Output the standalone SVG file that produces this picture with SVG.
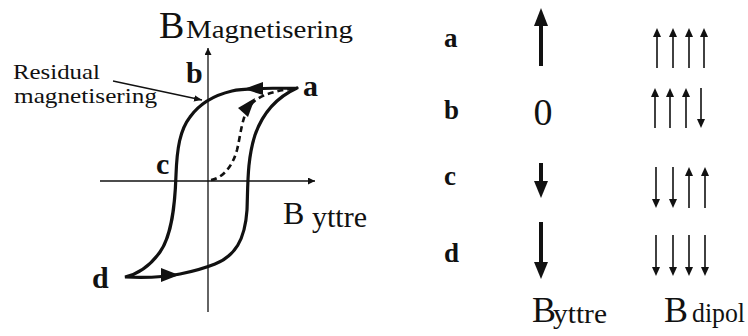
<svg xmlns="http://www.w3.org/2000/svg" width="748" height="336" viewBox="0 0 748 336">
<defs>
<style>
.t{font-family:"Liberation Serif","Times New Roman",serif;fill:#111}
.bl{font-family:"Liberation Serif","Times New Roman",serif;font-weight:bold;fill:#111}
.ax{stroke:#111;stroke-width:1.3;fill:none}
.loop{stroke:#111;stroke-width:3.2;fill:none;stroke-linecap:round}
.dash{stroke:#111;stroke-width:2.6;fill:none;stroke-dasharray:6 4}
.big{stroke:#111;stroke-width:4;fill:none}
.sm{stroke:#111;stroke-width:1.6;fill:none}
.hd{fill:#111;stroke:none}
</style>
<marker id="axh" viewBox="0 0 10 10" refX="10" refY="5" markerWidth="7" markerHeight="7" markerUnits="userSpaceOnUse" orient="auto"><path d="M0,0 L10,5 L0,10 z" fill="#111"/></marker>
<marker id="sh" viewBox="0 0 10 10" refX="10" refY="5" markerWidth="8" markerHeight="8" markerUnits="userSpaceOnUse" orient="auto"><path d="M0,1 L10,5 L0,9 z" fill="#111"/></marker>
</defs>

<g id="axes">
<line class="ax" x1="208" y1="312" x2="208" y2="48" marker-end="url(#axh)"/>
<line class="ax" x1="100" y1="181" x2="315" y2="181" marker-end="url(#axh)"/>
<text class="t" x="159" y="38" font-size="38">B</text>
<text class="t" x="186" y="38" font-size="26" textLength="167" lengthAdjust="spacingAndGlyphs">Magnetisering</text>
<text class="t" x="283" y="224" font-size="32">B</text>
<text class="t" x="312" y="227" font-size="29" textLength="55" lengthAdjust="spacingAndGlyphs">yttre</text>
</g>

<g id="loop">
<path class="loop" d="M297,88 C270,88 245,88 232,91 C215,95 200,103 190,117 C180,130 177,148 176,175 C175,205 172,235 160,252 C150,266 138,274 125,277 C145,278 165,277 180,274 C195,271 205,268 215,264 C235,256 245,240 247,210 C248,185 247,160 255,135 C262,115 275,98 297,88"/>
<path class="hd" d="M244,89 L263,82 L263,95 z"/>
<path class="hd" d="M179,275 L161,282 L161,268 z"/>
</g>

<g id="virgin">
<path class="dash" d="M211,180 C222,178 232,168 237,150 C240,138 241,125 246,112 C252,100 262,93 290,89"/>
<path class="hd" d="M255,98 L248,117 L238,108 z"/>
</g>

<g id="residual">
<text class="t" x="13" y="79" font-size="21" textLength="87" lengthAdjust="spacingAndGlyphs">Residual</text>
<text class="t" x="14" y="102.5" font-size="21" textLength="143" lengthAdjust="spacingAndGlyphs">magnetisering</text>
<line class="ax" x1="113" y1="81" x2="202" y2="100" marker-end="url(#sh)"/>
</g>

<g id="pointlabels">
<text class="bl" x="186" y="83" font-size="30">b</text>
<text class="bl" x="303" y="96" font-size="30">a</text>
<text class="bl" x="156" y="174" font-size="30">c</text>
<text class="bl" x="92" y="288" font-size="30">d</text>
</g>

<g id="table">
<text class="bl" x="444" y="47" font-size="27">a</text>
<text class="bl" x="444" y="119" font-size="27">b</text>
<text class="bl" x="444" y="185" font-size="27">c</text>
<text class="bl" x="444" y="262" font-size="27">d</text>

<line class="big" x1="541" y1="66" x2="541" y2="22"/>
<path class="hd" d="M541,8 L548,26 L534,26 z"/>
<text class="t" x="543" y="125" font-size="38" text-anchor="middle">0</text>
<line class="big" x1="541" y1="163" x2="541" y2="184"/>
<path class="hd" d="M541,198 L548,181 L534,181 z"/>
<line class="big" x1="541" y1="222" x2="541" y2="265"/>
<path class="hd" d="M541,279 L548,262 L534,262 z"/>

<g id="dip-a">
<line class="sm" x1="657" y1="68" x2="657" y2="34"/><path class="hd" d="M657,28 L661,37 L653,37 z"/>
<line class="sm" x1="673" y1="68" x2="673" y2="34"/><path class="hd" d="M673,28 L677,37 L669,37 z"/>
<line class="sm" x1="689" y1="68" x2="689" y2="34"/><path class="hd" d="M689,28 L693,37 L685,37 z"/>
<line class="sm" x1="704" y1="68" x2="704" y2="34"/><path class="hd" d="M704,28 L708,37 L700,37 z"/>
</g>
<g id="dip-b">
<line class="sm" x1="655" y1="128" x2="655" y2="94"/><path class="hd" d="M655,88 L659,97 L651,97 z"/>
<line class="sm" x1="670" y1="128" x2="670" y2="94"/><path class="hd" d="M670,88 L674,97 L666,97 z"/>
<line class="sm" x1="686" y1="128" x2="686" y2="94"/><path class="hd" d="M686,88 L690,97 L682,97 z"/>
<line class="sm" x1="701" y1="88" x2="701" y2="122"/><path class="hd" d="M701,128 L705,119 L697,119 z"/>
</g>
<g id="dip-c">
<line class="sm" x1="656" y1="167" x2="656" y2="202"/><path class="hd" d="M656,208 L660,199 L652,199 z"/>
<line class="sm" x1="673" y1="167" x2="673" y2="202"/><path class="hd" d="M673,208 L677,199 L669,199 z"/>
<line class="sm" x1="689" y1="208" x2="689" y2="173"/><path class="hd" d="M689,167 L693,176 L685,176 z"/>
<line class="sm" x1="705" y1="208" x2="705" y2="173"/><path class="hd" d="M705,167 L709,176 L701,176 z"/>
</g>
<g id="dip-d">
<line class="sm" x1="656" y1="235" x2="656" y2="270"/><path class="hd" d="M656,276 L660,267 L652,267 z"/>
<line class="sm" x1="673" y1="235" x2="673" y2="270"/><path class="hd" d="M673,276 L677,267 L669,267 z"/>
<line class="sm" x1="689" y1="235" x2="689" y2="270"/><path class="hd" d="M689,276 L693,267 L685,267 z"/>
<line class="sm" x1="705" y1="235" x2="705" y2="270"/><path class="hd" d="M705,276 L709,267 L701,267 z"/>
</g>

<text class="t" x="532" y="322" font-size="36">B</text>
<text class="t" x="553" y="323" font-size="27" textLength="54" lengthAdjust="spacingAndGlyphs">yttre</text>
<text class="t" x="664" y="322" font-size="36">B</text>
<text class="t" x="692" y="322" font-size="27" textLength="53" lengthAdjust="spacingAndGlyphs">dipol</text>
</g>
</svg>
